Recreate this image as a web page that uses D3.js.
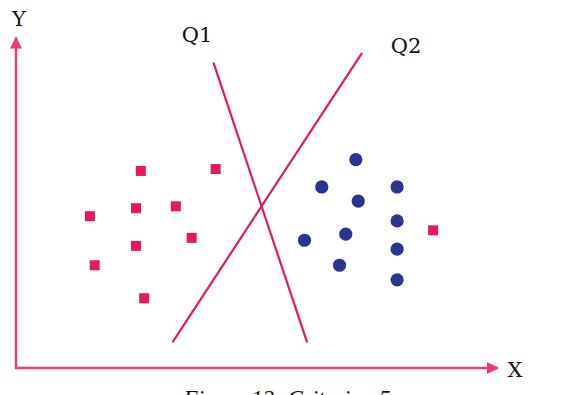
<!DOCTYPE html>
<html>
<head>
<meta charset="utf-8">
<script src="https://cdn.jsdelivr.net/npm/d3@7"></script>
<style>
  body { margin: 0; background: #fff; overflow: hidden; }
  svg { display: block; font-family: "DejaVu Serif", "Liberation Serif", serif; }
</style>
</head>
<body>
<svg id="chart"></svg>
<script>
const W = 568, H = 395;

// class A points (pink squares), in axis units
const squaresX = [2.60, 4.16, 1.54, 2.50, 3.33, 3.66, 2.50, 1.64, 2.67, 8.69];
const squaresY = [4.18, 4.22, 3.22, 3.39, 3.43, 2.76, 2.59, 2.18, 1.48, 2.92];

// class B points (blue circles)
const circlesX = [7.08, 6.37, 7.94, 7.13, 7.94, 6.87, 6.01, 7.94, 6.74, 7.94];
const circlesY = [4.42, 3.84, 3.84, 3.54, 3.12, 2.84, 2.71, 2.52, 2.18, 1.87];

// separating lines: [x1, y1, x2, y2]
const lineNames = ["Q1", "Q2"];
const lineEnds = [
    [4.12, 6.46, 6.06, 0.56],
    [7.20, 6.67, 3.27, 0.56]
];

const pink = "#e8185e", axisPink = "#e83a7c", navy = "#2b3590";

const svg = d3.select("#chart").attr("width", W).attr("height", H);

const x = d3.scaleLinear().domain([0, 10]).range([16, 496]);
const y = d3.scaleLinear().domain([0, 7]).range([368, 38]);

// arrow markers
const defs = svg.append("defs");
defs.append("marker")
    .attr("id", "arrow")
    .attr("viewBox", "0 0 12 12")
    .attr("refX", 11).attr("refY", 6)
    .attr("markerWidth", 12).attr("markerHeight", 12)
    .attr("markerUnits", "userSpaceOnUse")
    .attr("orient", "auto")
    .append("path")
    .attr("d", "M0,0 L12,6 L0,12 Z")
    .attr("fill", axisPink);

// axes
svg.append("line")
    .attr("x1", x(0)).attr("y1", y(0))
    .attr("x2", x(0)).attr("y2", y(7) - 0.5)
    .attr("stroke", axisPink).attr("stroke-width", 2.4)
    .attr("marker-end", "url(#arrow)");

svg.append("line")
    .attr("x1", x(0) - 1.2).attr("y1", y(0))
    .attr("x2", x(10) + 2).attr("y2", y(0))
    .attr("stroke", axisPink).attr("stroke-width", 2.4)
    .attr("marker-end", "url(#arrow)");

svg.append("text").attr("x", 19).attr("y", 26)
    .attr("text-anchor", "middle").attr("font-size", 21).attr("fill", "#111")
    .text("Y");
svg.append("text").attr("x", 515).attr("y", 377)
    .attr("text-anchor", "middle").attr("font-size", 21).attr("fill", "#111")
    .text("X");

// Q lines
svg.selectAll(".qline").data(lineEnds).enter()
    .append("line").attr("class", "qline")
    .attr("x1", d => x(d[0])).attr("y1", d => y(d[1]))
    .attr("x2", d => x(d[2])).attr("y2", d => y(d[3]))
    .attr("stroke", pink).attr("stroke-width", 2.2)
    .attr("stroke-linecap", "round");

const labelPos = [[197, 42], [406, 53]];
svg.selectAll(".qlabel").data(lineNames).enter()
    .append("text").attr("class", "qlabel")
    .attr("x", (d, i) => labelPos[i][0]).attr("y", (d, i) => labelPos[i][1])
    .attr("text-anchor", "middle").attr("font-size", 21).attr("fill", "#111")
    .text(d => d);

// points
const sq = 10;
svg.selectAll(".sq").data(squaresX).enter()
    .append("rect").attr("class", "sq")
    .attr("x", (d, i) => x(d) - sq / 2)
    .attr("y", (d, i) => y(squaresY[i]) - sq / 2)
    .attr("width", sq).attr("height", sq)
    .attr("fill", pink);

svg.selectAll(".dot").data(circlesX).enter()
    .append("circle").attr("class", "dot")
    .attr("cx", d => x(d))
    .attr("cy", (d, i) => y(circlesY[i]))
    .attr("r", 6.6)
    .attr("fill", navy);

// caption (cut off by the frame, as in the source figure)
svg.append("text").attr("x", 287).attr("y", 406)
    .attr("text-anchor", "middle").attr("font-size", 23)
    .attr("font-family", "Liberation Serif, serif")
    .attr("font-style", "italic").attr("fill", "#111")
    .text("Figure 12: Criterion 5");
</script>
</body>
</html>
